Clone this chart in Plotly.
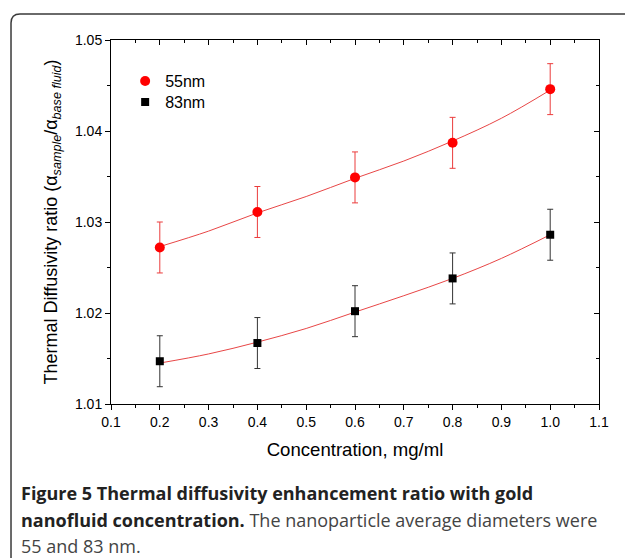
import plotly.graph_objects as go

# ---- data ----
conc = [0.2, 0.4, 0.6, 0.8, 1.0]
ratio_55 = [1.0272, 1.0311, 1.0349, 1.0387, 1.0446]
err_55 = [0.0028, 0.0028, 0.0028, 0.0028, 0.0028]
ratio_83 = [1.0147, 1.0167, 1.0202, 1.0238, 1.0286]
err_83 = [0.0028, 0.0028, 0.0028, 0.0028, 0.0028]

fit_x = [0.2, 0.3, 0.4, 0.5, 0.6, 0.7, 0.8, 0.9, 1.0]
fit_55 = [1.0273, 1.0290, 1.0310, 1.0328, 1.0348, 1.0367, 1.0389, 1.0414, 1.0445]
fit_83 = [1.0145, 1.0155, 1.0168, 1.0183, 1.0201, 1.0219, 1.0238, 1.0260, 1.0286]

x_ticks = [0.1, 0.2, 0.3, 0.4, 0.5, 0.6, 0.7, 0.8, 0.9, 1.0, 1.1]
y_ticks = [1.01, 1.02, 1.03, 1.04, 1.05]

fig = go.Figure()

fig.add_trace(go.Scatter(x=fit_x, y=fit_55, mode="lines", line=dict(color="rgb(232,70,70)", width=1, shape="spline"),
                         showlegend=False, hoverinfo="skip"))
fig.add_trace(go.Scatter(x=fit_x, y=fit_83, mode="lines", line=dict(color="rgb(232,70,70)", width=1, shape="spline"),
                         showlegend=False, hoverinfo="skip"))

fig.add_trace(go.Scatter(x=conc, y=ratio_55, mode="markers", name="55nm", legend="legend",
                         marker=dict(symbol="circle", size=10, color="#ff0000"),
                         error_y=dict(type="data", array=err_55, visible=True, color="rgb(235,60,60)", thickness=1, width=3)))
fig.add_trace(go.Scatter(x=conc, y=ratio_83, mode="markers", name="83nm", legend="legend2",
                         marker=dict(symbol="square", size=8, color="#000000"),
                         error_y=dict(type="data", array=err_83, visible=True, color="#333333", thickness=1, width=3)))

# dummy trace for mirrored inner ticks (top / right)
fig.add_trace(go.Scatter(x=[None], y=[None], xaxis="x2", yaxis="y2", showlegend=False, hoverinfo="skip"))

axis_font = dict(family="Liberation Sans, Arial", size=14, color="#000")

fig.update_layout(
    width=625, height=558,
    margin=dict(l=111, r=26, t=40, b=154),
    paper_bgcolor="white", plot_bgcolor="white",
    font=dict(family="Liberation Sans, Arial", color="#000"),
    xaxis=dict(range=[0.1, 1.1], tickvals=x_ticks, tickformat=".1f", ticks="outside", ticklen=5, tickwidth=1,
               tickcolor="#000", showline=True, linecolor="#000", linewidth=1, showgrid=False, zeroline=False,
               minor=dict(dtick=0.05, tick0=0.1, ticks="outside", ticklen=3, tickcolor="#000", showgrid=False),
               tickfont=axis_font, automargin=False,
               title=dict(text="Concentration, mg/ml", font=dict(size=18.6, color="#000"), standoff=14)),
    yaxis=dict(range=[1.01, 1.05], tickvals=y_ticks, tickformat=".2f", ticks="outside", ticklen=5, tickwidth=1,
               tickcolor="#000", showline=True, linecolor="#000", linewidth=1, showgrid=False, zeroline=False,
               minor=dict(dtick=0.005, tick0=1.01, ticks="outside", ticklen=3, tickcolor="#000", showgrid=False),
               tickfont=axis_font, automargin=False,
               title=dict(text="Thermal Diffusivity ratio (α<sub><i>sample</i></sub>/α<sub><i>base fluid</i></sub>)",
                          font=dict(size=18, color="#000"), standoff=12)),
    xaxis2=dict(overlaying="x", side="top", anchor="y", range=[0.1, 1.1], tickvals=x_ticks, ticks="inside",
                ticklen=5, tickcolor="#000", showticklabels=False, showline=True, linecolor="#000", linewidth=1,
                showgrid=False, zeroline=False,
                minor=dict(dtick=0.05, tick0=0.1, ticks="inside", ticklen=3, tickcolor="#000", showgrid=False)),
    yaxis2=dict(overlaying="y", side="right", anchor="x", range=[1.01, 1.05], tickvals=y_ticks, ticks="inside",
                ticklen=5, tickcolor="#000", showticklabels=False, showline=True, linecolor="#000", linewidth=1,
                showgrid=False, zeroline=False,
                minor=dict(dtick=0.005, tick0=1.01, ticks="inside", ticklen=3, tickcolor="#000", showgrid=False)),
    legend=dict(x=0.029, y=0.934, xanchor="left", yanchor="top", bgcolor="rgba(0,0,0,0)",
                font=dict(size=16, color="#000"), itemwidth=30),
    legend2=dict(x=0.029, y=0.876, xanchor="left", yanchor="top", bgcolor="rgba(0,0,0,0)",
                 font=dict(size=16, color="#000"), itemwidth=30),
    showlegend=True,
)

# rounded frame around the figure panel
fig.add_shape(type="path", xref="paper", yref="paper",
              path="M -0.2049,-0.46 L -0.2049,1.0467 Q -0.2049,1.0714 -0.1865,1.0714 L 1.09,1.0714",
              line=dict(color="#3a3a3a", width=1.5))

cap_font_b = dict(family="Open Sans", size=18, color="#222")
fig.add_annotation(xref="paper", yref="paper", x=-0.1885, y=-0.2445, xanchor="left", yanchor="middle",
                   showarrow=False, align="left",
                   text="<b>Figure 5 Thermal diffusivity enhancement ratio with gold</b>", font=cap_font_b)
fig.add_annotation(xref="paper", yref="paper", x=-0.1885, y=-0.3187, xanchor="left", yanchor="middle",
                   showarrow=False, align="left",
                   text="<b>nanofluid concentration.</b><span style='color:#444'> The nanoparticle average diameters were</span>",
                   font=cap_font_b)
fig.add_annotation(xref="paper", yref="paper", x=-0.1885, y=-0.3901, xanchor="left", yanchor="middle",
                   showarrow=False, align="left",
                   text="55 and 83 nm.", font=dict(family="Open Sans", size=18, color="#444"))

fig.write_html("out.html", config={"displayModeBar": False}, post_script="document.body.style.margin='0';")
